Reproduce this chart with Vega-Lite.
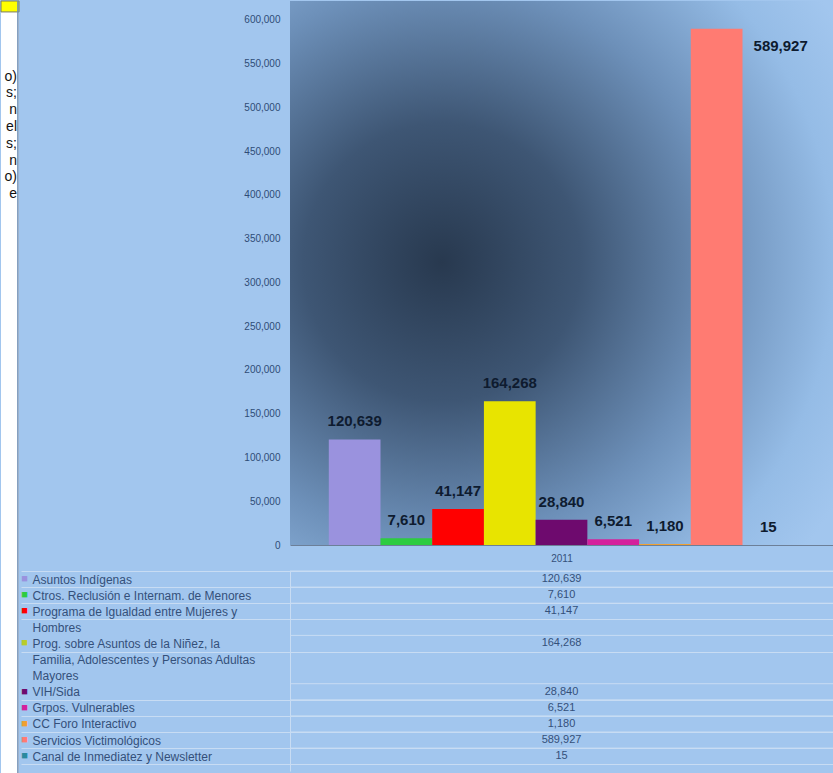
{
  "$schema": "https://vega.github.io/schema/vega-lite/v6.json",
  "background": "#a2c6ee",
  "padding": 0,
  "spacing": 0,
  "config": {"view": {"stroke": null}, "font": "Liberation Sans"},
  "datasets": {
    "strip": [
      {"line": 4, "t": "o)"}, {"line": 5, "t": "s;"}, {"line": 6, "t": "n"}, {"line": 7, "t": "el"},
      {"line": 8, "t": "s;"}, {"line": 9, "t": "n"}, {"line": 10, "t": "o)"}, {"line": 11, "t": "e"}
    ],
    "bars": [
      {"series": "Asuntos Indígenas", "value": 120639},
      {"series": "Ctros. Reclusión e Internam. de Menores", "value": 7610},
      {"series": "Programa de Igualdad entre Mujeres y Hombres", "value": 41147},
      {"series": "Prog. sobre Asuntos de la Niñez, la Familia, Adolescentes y Personas Adultas Mayores", "value": 164268},
      {"series": "VIH/Sida", "value": 28840},
      {"series": "Grpos. Vulnerables", "value": 6521},
      {"series": "CC Foro Interactivo", "value": 1180},
      {"series": "Servicios Victimológicos", "value": 589927},
      {"series": "Canal de Inmediatez y Newsletter", "value": 15}
    ],
    "table": [
      {"line": "Asuntos Indígenas", "series": "Asuntos Indígenas", "value": 120639, "year": "2011"},
      {"line": "Ctros. Reclusión e Internam. de Menores", "series": "Ctros. Reclusión e Internam. de Menores", "value": 7610, "year": "2011"},
      {"line": "Programa de Igualdad entre Mujeres y", "series": "Programa de Igualdad entre Mujeres y Hombres", "value": 41147, "year": "2011"},
      {"line": "Hombres"},
      {"line": "Prog. sobre Asuntos de la Niñez, la", "series": "Prog. sobre Asuntos de la Niñez, la Familia, Adolescentes y Personas Adultas Mayores", "value": 164268, "year": "2011"},
      {"line": "Familia, Adolescentes y Personas Adultas"},
      {"line": "Mayores"},
      {"line": "VIH/Sida", "series": "VIH/Sida", "value": 28840, "year": "2011"},
      {"line": "Grpos. Vulnerables", "series": "Grpos. Vulnerables", "value": 6521, "year": "2011"},
      {"line": "CC Foro Interactivo", "series": "CC Foro Interactivo", "value": 1180, "year": "2011"},
      {"line": "Servicios Victimológicos", "series": "Servicios Victimológicos", "value": 589927, "year": "2011"},
      {"line": "Canal de Inmediatez y Newsletter", "series": "Canal de Inmediatez y Newsletter", "value": 15, "year": "2011"}
    ]
  },
  "hconcat": [
    {
      "width": 18,
      "height": 773,
      "view": {"fill": "#ffffff"},
      "layer": [
        {
          "data": {"values": [{"box": "nota"}]},
          "mark": {"type": "rect", "color": "#ffff00", "stroke": "#7a7a60", "strokeWidth": 1},
          "encoding": {
            "y": {"datum": -0.5, "type": "quantitative", "scale": {"domain": [-0.5, 45.5], "reverse": true, "nice": false, "zero": false}, "axis": null},
            "y2": {"datum": 0.15}
          }
        },
        {
          "data": {"name": "strip"},
          "mark": {"type": "text", "align": "right", "dx": 7, "fontSize": 14, "color": "#111111", "clip": true},
          "encoding": {
            "y": {"field": "line", "type": "quantitative", "axis": null},
            "text": {"field": "t"}
          }
        },
        {
          "data": {"values": [{"edge": "borde"}]},
          "mark": {"type": "rule", "color": "#6d8db4", "strokeWidth": 1.5},
          "encoding": {
            "x": {"datum": 0.94, "type": "quantitative", "scale": {"domain": [0, 1], "nice": false, "zero": false}, "axis": null}
          }
        }
      ]
    },
    {
      "spacing": 2,
      "resolve": {"scale": {"x": "independent"}, "axis": {"x": "independent"}},
      "vconcat": [
        {
          "width": 543,
          "height": 544,
          "layer": [
            {
              "data": {"values": [{"fondo": "area"}]},
              "mark": {
                "type": "rect",
                "color": {
                  "gradient": "radial",
                  "x1": 0.28, "y1": 0.48, "r1": 0,
                  "x2": 0.28, "y2": 0.48, "r2": 0.85,
                  "stops": [
                    {"offset": 0, "color": "#28394f"},
                    {"offset": 0.3, "color": "#3e5674"},
                    {"offset": 0.6, "color": "#6d90b9"},
                    {"offset": 0.85, "color": "#95bce6"},
                    {"offset": 1, "color": "#a2c6ee"}
                  ]
                }
              },
              "encoding": {}
            },
            {
              "data": {"name": "bars"},
              "encoding": {
                "x": {
                  "field": "series", "type": "nominal",
                  "scale": {
                    "domain": ["Asuntos Indígenas", "Ctros. Reclusión e Internam. de Menores", "Programa de Igualdad entre Mujeres y Hombres", "Prog. sobre Asuntos de la Niñez, la Familia, Adolescentes y Personas Adultas Mayores", "VIH/Sida", "Grpos. Vulnerables", "CC Foro Interactivo", "Servicios Victimológicos", "Canal de Inmediatez y Newsletter"],
                    "paddingInner": 0, "paddingOuter": 0.75
                  },
                  "axis": {"labels": false, "ticks": false, "domain": true, "domainColor": "#6c7f98", "title": "2011", "titleFontSize": 10, "titleFontWeight": "normal", "titleColor": "#34507a", "titlePadding": 8}
                },
                "y": {
                  "field": "value", "type": "quantitative",
                  "scale": {"domain": [0, 621714], "nice": false},
                  "axis": {"values": [0, 50000, 100000, 150000, 200000, 250000, 300000, 350000, 400000, 450000, 500000, 550000, 600000], "labelExpr": "format(datum.value, ',')", "labelFontSize": 10, "labelColor": "#2f4c76", "labelPadding": 10, "ticks": false, "domain": false, "grid": false, "title": null, "minExtent": 269, "maxExtent": 269}
                }
              },
              "layer": [
                {
                  "mark": {"type": "bar"},
                  "encoding": {
                    "color": {
                      "field": "series", "type": "nominal",
                      "scale": {
                        "domain": ["Asuntos Indígenas", "Ctros. Reclusión e Internam. de Menores", "Programa de Igualdad entre Mujeres y Hombres", "Prog. sobre Asuntos de la Niñez, la Familia, Adolescentes y Personas Adultas Mayores", "VIH/Sida", "Grpos. Vulnerables", "CC Foro Interactivo", "Servicios Victimológicos", "Canal de Inmediatez y Newsletter"],
                        "range": ["#9a92de", "#2ecc40", "#ff0000", "#e8e400", "#6e0a6e", "#d4209c", "#f0a030", "#ff7b72", "#2b8a9e"]
                      },
                      "legend": null
                    }
                  }
                },
                {
                  "transform": [{"filter": "datum.value <= 500000"}],
                  "mark": {"type": "text", "dy": -18, "fontSize": 15, "fontWeight": "bold", "color": "#0e1b2f"},
                  "encoding": {"text": {"field": "value", "type": "quantitative", "format": ","}}
                },
                {
                  "transform": [{"filter": "datum.value > 500000"}],
                  "mark": {"type": "text", "dx": 64, "dy": 17, "fontSize": 15, "fontWeight": "bold", "color": "#0e1b2f"},
                  "encoding": {"text": {"field": "value", "type": "quantitative", "format": ","}}
                }
              ]
            }
          ]
        },
        {
          "width": 543,
          "height": 200,
          "data": {"name": "table"},
          "resolve": {"axis": {"y": "independent"}},
          "layer": [
            {
              "transform": [{"filter": "datum.value != null"}],
              "mark": {"type": "text", "fontSize": 11, "color": "#34507a"},
              "encoding": {
                "x": {"field": "year", "type": "nominal", "axis": null},
                "y": {
                  "field": "line", "type": "nominal",
                  "scale": {
                    "domain": ["Asuntos Indígenas", "Ctros. Reclusión e Internam. de Menores", "Programa de Igualdad entre Mujeres y", "Hombres", "Prog. sobre Asuntos de la Niñez, la", "Familia, Adolescentes y Personas Adultas", "Mayores", "VIH/Sida", "Grpos. Vulnerables", "CC Foro Interactivo", "Servicios Victimológicos", "Canal de Inmediatez y Newsletter"],
                    "paddingInner": 0, "paddingOuter": 0.211, "align": 0
                  },
                  "axis": {
                    "orient": "left", "title": null, "domain": true, "domainColor": "#c8dcf3",
                    "ticks": true, "tickSize": 269, "tickBand": "extent",
                    "tickColor": {"condition": {"test": "indexof(['Hombres','Familia, Adolescentes y Personas Adultas','Mayores'], datum.value) >= 0", "value": "rgba(0,0,0,0)"}, "value": "#c8dcf3"},
                    "grid": true,
                    "gridColor": {"condition": {"test": "indexof(['Hombres','Familia, Adolescentes y Personas Adultas','Mayores'], datum.value) >= 0", "value": "rgba(0,0,0,0)"}, "value": "#c8dcf3"},
                    "labelAlign": "left", "labelPadding": -11, "labelFontSize": 12, "labelColor": "#34507a", "labelLimit": 256,
                    "minExtent": 269, "maxExtent": 269
                  }
                },
                "text": {"field": "value", "type": "quantitative", "format": ","}
              }
            },
            {
              "transform": [{"filter": "datum.series != null"}],
              "mark": {"type": "rule", "color": "#c8dcf3"},
              "encoding": {
                "y": {
                  "field": "line", "type": "nominal", "bandPosition": 0,
                  "axis": {
                    "orient": "left", "title": null, "domain": false, "ticks": false, "grid": false,
                    "labelExpr": "'■'", "labelAlign": "center", "labelPadding": 266, "labelFontSize": 11,
                    "labelColor": {
                      "condition": [
                        {"test": "datum.value == 'Asuntos Indígenas'", "value": "#9a92de"},
                        {"test": "datum.value == 'Ctros. Reclusión e Internam. de Menores'", "value": "#2ecc40"},
                        {"test": "datum.value == 'Programa de Igualdad entre Mujeres y'", "value": "#ff0000"},
                        {"test": "datum.value == 'Prog. sobre Asuntos de la Niñez, la'", "value": "#b9cc2a"},
                        {"test": "datum.value == 'VIH/Sida'", "value": "#6e0a6e"},
                        {"test": "datum.value == 'Grpos. Vulnerables'", "value": "#d4209c"},
                        {"test": "datum.value == 'CC Foro Interactivo'", "value": "#f0a030"},
                        {"test": "datum.value == 'Servicios Victimológicos'", "value": "#ff7b72"},
                        {"test": "datum.value == 'Canal de Inmediatez y Newsletter'", "value": "#2b8a9e"}
                      ],
                      "value": "rgba(0,0,0,0)"
                    },
                    "minExtent": 0, "maxExtent": 0
                  }
                }
              }
            }
          ]
        }
      ]
    }
  ]
}
